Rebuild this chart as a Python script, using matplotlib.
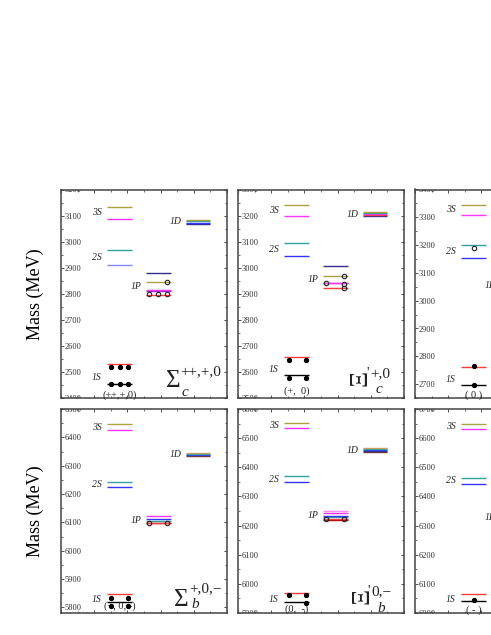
import matplotlib
matplotlib.use('Agg')
import matplotlib.pyplot as plt
from matplotlib.ticker import MultipleLocator

plt.rcParams['font.family'] = ['Liberation Serif', 'DejaVu Serif']
plt.rcParams['mathtext.fontset'] = 'stix'

W, H = 491, 635
fig = plt.figure(figsize=(W / 100, H / 100), dpi=100)

# ---------------- data (MeV) ----------------
# Sigma_c
SC_YLIM = (2400, 3200)
SC_1S = [2455, 2531]
SC_2S = [2911, 2967]
SC_3S = [3087, 3134]
SC_1P = [2795, 2812, 2816, 2845, 2878]
SC_1D = [3069, 3073, 3078, 3083]
SC_EXP_1S = [2454, 2518]
SC_EXP_1S_SLOTS = [[0, 1, 2], [0, 1, 2]]
SC_EXP_1P = [2800, 2846]
SC_EXP_1P_SLOTS = [[0, 1, 2], [2]]
SC_CHARGE = '(++,+,0)'

# Xi'_c
XC_YLIM = (2500, 3300)
XC_1S = [2587, 2656]
XC_2S = [3046, 3096]
XC_3S = [3200, 3242]
XC_1P = [2923, 2940, 2943, 2968, 3006]
XC_1D = [3198, 3202, 3206, 3209, 3213]
XC_EXP_1S = [2578, 2647]
XC_EXP_1S_SLOTS = [[0, 1], [0, 1]]
XC_EXP_1P = [2923, 2938, 2942, 2967]
XC_EXP_1P_SLOTS = [[2], [2], [0], [2]]
XC_CHARGE = '(+,  0)'

# Omega_c
OC_YLIM = (2650, 3400)
OC_1S = [2696, 2762]
OC_2S = [3152, 3199]
OC_3S = [3308, 3346]
OC_1P = [3035, 3045, 3055, 3065, 3080]
OC_1D = [3290, 3295, 3300, 3305]
OC_EXP_1S = [2695, 2766]
OC_EXP_2S = [3188]
OC_CHARGE = '( 0 )'

# Sigma_b
SB_YLIM = (5780, 6500)
SB_1S = [5818, 5847]
SB_2S = [6223, 6244]
SB_3S = [6426, 6446]
SB_1P = [6096, 6099, 6106, 6111, 6121]
SB_1D = [6334, 6338, 6341, 6345]
SB_EXP_1S = [5806, 5834]
SB_EXP_1S_SLOTS = [[0, 2], [0, 2]]
SB_EXP_1P = [6097]
SB_EXP_1P_SLOTS = [[0, 2]]
SB_CHARGE = '(+, 0, -)'

# Xi'_b
XB_YLIM = (5900, 6600)
XB_1S = [5939, 5969]
XB_2S = [6350, 6369]
XB_3S = [6534, 6553]
XB_1P = [6220, 6223, 6230, 6234, 6244, 6249]
XB_1D = [6452, 6455, 6458, 6462, 6466]
XB_EXP_1S = [5936, 5961]
XB_EXP_1S_SLOTS = [[1], [0, 1]]
XB_EXP_1P = [6224]
XB_EXP_1P_SLOTS = [[0, 2]]
XB_CHARGE = '(0,  -)'

# Omega_b
OB_YLIM = (6000, 6700)
OB_1S = [6040, 6066]
OB_2S = [6444, 6464]
OB_3S = [6630, 6649]
OB_1P = [6305, 6315, 6325, 6335, 6350]
OB_1D = [6525, 6530, 6535, 6540]
OB_EXP_1S = [6046]
OB_CHARGE = '( - )'

# ---------------- styles ----------------
OLIVE = '#a9a23f'
MAG = '#ff33ff'
TEAL = '#2fa39b'
BLUE = '#3535ff'
LBLUE = '#8585ff'
NAVY = '#30308f'
RED = '#ff3b3b'
PURPLE = '#a020d0'
TAN = '#c8a064'
BROWN = '#7a3a20'
PINK = '#ff88ff'
DRED = '#b00000'
TXT = '#222222'

COL = {'S': (0.28, 0.425), 'P': (0.515, 0.66), 'D': (0.752, 0.895)}
SLOTS3 = [0.300, 0.3525, 0.405]
SLOTS2 = [0.309, 0.410]
PSLOTS = [0.530, 0.585, 0.640]

col_left = [61, 238, 415]
ax_w = 166
row_top = [189.5, 409]
row_bot = [398, 613]


def make_ax(r, c, ylim):
    l = col_left[c] / W
    b = 1 - row_bot[r] / H
    h = (row_bot[r] - row_top[r]) / H
    ax = fig.add_axes([l, b, ax_w / W, h])
    ax._px = (col_left[c], row_top[r], row_bot[r])
    ax.set_xlim(0, 1)
    ax.set_ylim(*ylim)
    ax.yaxis.set_major_locator(MultipleLocator(100))
    ax.yaxis.set_minor_locator(MultipleLocator(50))
    ax.xaxis.set_major_locator(MultipleLocator(0.2))
    ax.xaxis.set_minor_locator(MultipleLocator(0.1))
    ax.tick_params(axis='both', which='both', direction='in', top=True, bottom=True,
                   left=True, right=True, labelbottom=False, colors='#333333')
    ax.tick_params(axis='x', which='major', length=2.5, width=0.6)
    ax.tick_params(axis='x', which='minor', length=1.5, width=0.5)
    ax.tick_params(axis='y', which='major', length=2.5, width=0.6, pad=-2.3,
                   labelsize=6, labelcolor='#333333')
    ax.tick_params(axis='y', which='minor', length=1.5, width=0.5)
    for lab in ax.get_yticklabels():
        lab.set_horizontalalignment('left')
    for tk in ax.yaxis.get_major_ticks():
        tk.label1.set_clip_box(ax.bbox)
        tk.label1.set_clip_on(True)
    for s in ax.spines.values():
        s.set_linewidth(1.1)
        s.set_color('#444444')
    return ax


def ptext(ax, px, py, s, **kw):
    """Place text at figure pixel position (from top-left) in axes coordinates."""
    left, top, bot = ax._px
    x = (px - left) / ax_w
    y = (bot - py) / (bot - top)
    kw.setdefault('color', TXT)
    return ax.text(x, y, s, transform=ax.transAxes, clip_on=False, **kw)


def levels(ax, col, masses, colors):
    x0, x1 = COL[col]
    for m, c in zip(masses, colors):
        ax.plot([x0, x1], [m, m], color=c, lw=1.0, solid_capstyle='butt', zorder=2)


def filled(ax, masses, slots, xs):
    for m, sl in zip(masses, slots):
        ax.plot([xs[i] for i in sl], [m] * len(sl), 'o', ms=2.8, color='black',
                mec='black', zorder=4, clip_on=False)


def opened(ax, masses, slots, xs):
    for m, sl in zip(masses, slots):
        ax.plot([xs[i] for i in sl], [m] * len(sl), 'o', ms=3.2, mfc='none',
                mec='#222222', mew=0.8, zorder=4, clip_on=False)


def names(ax, s1, s2, s3, p, d, fs=7):
    kw = dict(fontsize=fs, style='italic', ha='right', va='center', color=TXT)
    ax.text(0.245, (s3[0] + s3[1]) / 2, '3S', **kw)
    ax.text(0.245, (s2[0] + s2[1]) / 2, '2S', **kw)
    ax.text(0.245, s1[0] + 0.3 * (s1[1] - s1[0]), '1S', **kw)
    ax.text(0.485, sum(p) / len(p), '1P', **kw)
    ax.text(0.727, sum(d) / len(d), '1D', **kw)


def charge(ax, txt, py):
    left, top, bot = ax._px
    ptext(ax, left + 0.355 * ax_w, py, txt, fontsize=7.5, ha='center', va='center')


def sigma_label(ax, x, yb, sup, sub, sup_dx, sup_dy, sub_dx, sub_dy):
    ptext(ax, x, yb, 'Σ', fontsize=18, ha='left', va='baseline')
    ptext(ax, x + sup_dx, yb - sup_dy, sup, fontsize=11, ha='left', va='baseline')
    ptext(ax, x + sub_dx, yb + sub_dy, sub, fontsize=11, style='italic',
          ha='left', va='baseline')


def xi_label(ax, xc, yc, sup, sub):
    ptext(ax, xc, yc, 'Ξ', fontsize=18, rotation=90, ha='center', va='center')
    ptext(ax, xc + 5.5, yc - 5, "'", fontsize=10, ha='left', va='center')
    ptext(ax, xc + 9, yc - 0.5, sup, fontsize=11, ha='left', va='baseline')
    ptext(ax, xc + 15, yc + 15.5, sub, fontsize=11, style='italic',
          ha='left', va='baseline')


# ---- panel 1: Sigma_c ----
ax = make_ax(0, 0, SC_YLIM)
levels(ax, 'S', SC_1S, ['black', RED])
levels(ax, 'S', SC_2S, [LBLUE, TEAL])
levels(ax, 'S', SC_3S, [MAG, OLIVE])
levels(ax, 'P', SC_1P, [RED, PURPLE, MAG, OLIVE, NAVY])
levels(ax, 'D', SC_1D, [NAVY, BLUE, TEAL, OLIVE])
filled(ax, SC_EXP_1S, SC_EXP_1S_SLOTS, SLOTS3)
opened(ax, SC_EXP_1P, SC_EXP_1P_SLOTS, PSLOTS)
names(ax, SC_1S, SC_2S, SC_3S, SC_1P, SC_1D)
charge(ax, SC_CHARGE, 395.5)
sigma_label(ax, 166, 387, '++,+,0', 'c', 14.5, 11.5, 15.5, 8.5)
ax.set_ylabel('Mass (MeV)', fontsize=13, labelpad=9)

# ---- panel 2: Xi'_c ----
ax = make_ax(0, 1, XC_YLIM)
levels(ax, 'S', XC_1S, ['black', RED])
levels(ax, 'S', XC_2S, [BLUE, TEAL])
levels(ax, 'S', XC_3S, [MAG, OLIVE])
levels(ax, 'P', XC_1P, [RED, PURPLE, MAG, OLIVE, NAVY])
levels(ax, 'D', XC_1D, [NAVY, RED, MAG, TEAL, OLIVE])
filled(ax, XC_EXP_1S, XC_EXP_1S_SLOTS, SLOTS2)
opened(ax, XC_EXP_1P, XC_EXP_1P_SLOTS, PSLOTS)
names(ax, XC_1S, XC_2S, XC_3S, XC_1P, XC_1D)
charge(ax, XC_CHARGE, 391.5)
xi_label(ax, 361, 377.5, '+,0', 'c')

# ---- panel 3: Omega_c ----
ax = make_ax(0, 2, OC_YLIM)
levels(ax, 'S', OC_1S, ['black', RED])
levels(ax, 'S', OC_2S, [BLUE, TEAL])
levels(ax, 'S', OC_3S, [MAG, OLIVE])
levels(ax, 'P', OC_1P, [RED, PURPLE, MAG, OLIVE, NAVY])
levels(ax, 'D', OC_1D, [NAVY, BLUE, TEAL, OLIVE])
filled(ax, OC_EXP_1S, [[0], [0]], [0.3525])
opened(ax, OC_EXP_2S, [[0]], [0.3525])
names(ax, OC_1S, OC_2S, OC_3S, OC_1P, OC_1D)
charge(ax, OC_CHARGE, 395.5)

# ---- panel 4: Sigma_b ----
ax = make_ax(1, 0, SB_YLIM)
levels(ax, 'S', SB_1S, ['black', RED])
levels(ax, 'S', SB_2S, [BLUE, TEAL])
levels(ax, 'S', SB_3S, [MAG, OLIVE])
levels(ax, 'P', SB_1P, [DRED, RED, TEAL, BLUE, MAG])
levels(ax, 'D', SB_1D, [BROWN, BLUE, TEAL, TAN])
filled(ax, SB_EXP_1S, SB_EXP_1S_SLOTS, SLOTS3)
opened(ax, SB_EXP_1P, SB_EXP_1P_SLOTS, PSLOTS)
names(ax, SB_1S, SB_2S, SB_3S, SB_1P, SB_1D)
charge(ax, SB_CHARGE, 606)
sigma_label(ax, 174, 606.5, '+,0,\u2212', 'b', 15.5, 14, 17.5, 1.5)
ax.set_ylabel('Mass (MeV)', fontsize=13, labelpad=9)

# ---- panel 5: Xi'_b ----
ax = make_ax(1, 1, XB_YLIM)
levels(ax, 'S', XB_1S, ['black', RED])
levels(ax, 'S', XB_2S, [BLUE, TEAL])
levels(ax, 'S', XB_3S, [MAG, OLIVE])
levels(ax, 'P', XB_1P, [DRED, RED, TEAL, BLUE, MAG, PINK])
levels(ax, 'D', XB_1D, [BROWN, NAVY, BLUE, TEAL, TAN])
filled(ax, XB_EXP_1S, XB_EXP_1S_SLOTS, SLOTS2)
opened(ax, XB_EXP_1P, XB_EXP_1P_SLOTS, PSLOTS)
names(ax, XB_1S, XB_2S, XB_3S, XB_1P, XB_1D)
charge(ax, XB_CHARGE, 609)
xi_label(ax, 362, 596, '0,\u2212', 'b')

# ---- panel 6: Omega_b ----
ax = make_ax(1, 2, OB_YLIM)
levels(ax, 'S', OB_1S, ['black', RED])
levels(ax, 'S', OB_2S, [BLUE, TEAL])
levels(ax, 'S', OB_3S, [MAG, OLIVE])
levels(ax, 'P', OB_1P, [DRED, RED, TEAL, BLUE, MAG])
levels(ax, 'D', OB_1D, [BROWN, BLUE, TEAL, TAN])
filled(ax, OB_EXP_1S, [[0]], [0.3525])
names(ax, OB_1S, OB_2S, OB_3S, OB_1P, OB_1D)
charge(ax, OB_CHARGE, 610)

fig.savefig('out.png', dpi=100)
